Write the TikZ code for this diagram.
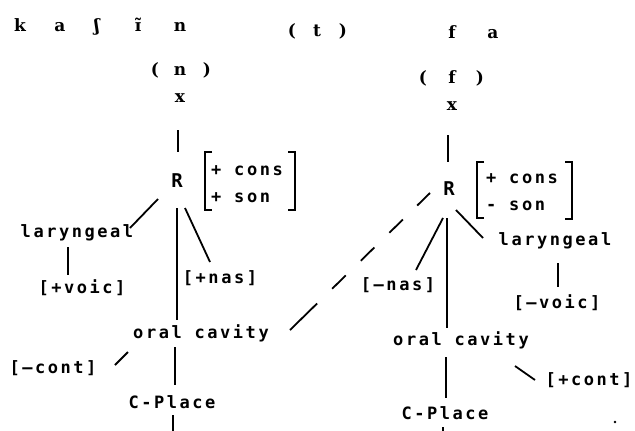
\documentclass[tikz,border=0pt]{standalone}
\usepackage{fontspec}
\newfontfamily\topf{DejaVu Serif}
\newfontfamily\labf{DejaVu Sans Mono}[LetterSpace=15]
\tikzset{
  top/.style={anchor=base, inner sep=0pt, font=\topf\bfseries\fontsize{17}{20}\selectfont},
  lab/.style={anchor=base, inner sep=0pt, font=\labf\bfseries\fontsize{17}{20}\selectfont},
  root/.style={lab, font=\labf\bfseries\fontsize{19}{22}\selectfont},
  featw/.style={lab, anchor=base west},
  ln/.style={line width=1.8pt},
  brk/.style={line width=1.6pt},
  dashln/.style={ln, dash pattern={on 38pt off 21pt on 19pt off 21pt on 19pt off 21pt on 19pt off 20pt on 19pt off 20pt}}
}
\begin{document}
\begin{tikzpicture}[x=1pt, y=-1pt]
\useasboundingbox (0,0) rectangle (635,431);

% transcription line
\node[top] (k)   at (20,31)  {k};
\node[top] (a1)  at (60,31)  {a};
\node[top] (esh) at (97,31)  {ʃ};
\node[top] (ii)  at (138,31) {ɪ̃};
\node[top] (n1)  at (180,31) {n};
\node[top] (lp1) at (292,36) {(};
\node[top] (t)   at (317,36) {t};
\node[top] (rp1) at (343,36) {)};
\node[top] (f1)  at (452,38) {f};
\node[top] (a2)  at (493,38) {a};

% segment slots
\node[top] (lp2) at (155,75)  {(};
\node[top] (n2)  at (180,75)  {n};
\node[top] (rp2) at (207,75)  {)};
\node[top] (xL)  at (180,102) {x};
\node[top] (lp3) at (423,83)  {(};
\node[top] (f2)  at (452,83)  {f};
\node[top] (rp3) at (480,83)  {)};
\node[top] (xR)  at (452,110) {x};

% left tree
\node[root] (RL)    at (177,187) {R};
\node[featw] (consL) at (211,175) {+ cons};
\node[featw] (sonL)  at (211,202) {+ son};
\node[lab] (larL)  at (77,237)  {laryngeal};
\node[lab] (voicL) at (82,293)  {[+voic]};
\node[lab] (nasL)  at (220,283) {[+nas]};
\node[lab] (oralL) at (201,338) {oral cavity};
\node[lab] (contL) at (53,373)  {[–cont]};
\node[lab] (CPL)   at (172,408) {C-Place};
\coordinate (botL) at (173,431);

% right tree
\node[root] (RR)    at (449,195) {R};
\node[featw] (consR) at (486,183) {+ cons};
\node[featw] (sonR)  at (486,210) {- son};
\node[lab] (larR)  at (555,245) {laryngeal};
\node[lab] (voicR) at (557,308) {[–voic]};
\node[lab] (nasR)  at (398,290) {[–nas]};
\node[lab] (oralR) at (461,345) {oral cavity};
\node[lab] (contR) at (589,385) {[+cont]};
\node[lab] (CPR)   at (445,419) {C-Place};
\coordinate (botR) at (443,431);

% feature brackets
\draw[brk] ([shift={(1,-23)}]consL.base west) -- ++(-7,0) -- ++(0,58) -- ++(7,0);
\draw[brk] ([shift={(77,-23)}]consL.base west) -- ++(7,0) -- ++(0,58) -- ++(-7,0);
\draw[brk] ([shift={(-2,-21)}]consR.base west) -- ++(-7,0) -- ++(0,56) -- ++(7,0);
\draw[brk] ([shift={(79,-21)}]consR.base west) -- ++(7,0) -- ++(0,57) -- ++(-7,0);

% left association lines
\draw[ln] ([shift={(-2,28)}]xL.base) -- ([shift={(1,-35)}]RL.base);
\draw[ln] ([shift={(-19,12)}]RL.base) -- ([shift={(53,-9)}]larL.base);
\draw[ln] ([shift={(-9,10)}]larL.base) -- ([shift={(-14,-18)}]voicL.base);
\draw[ln] ([shift={(0,21)}]RL.base) -- ([shift={(-24,-18)}]oralL.base);
\draw[ln] ([shift={(8,21)}]RL.base) -- ([shift={(-10,-21)}]nasL.base);
\draw[ln] ([shift={(-26,9)}]oralL.base) -- ([shift={(3,-23)}]CPL.base);
\draw[ln] ([shift={(1,7)}]CPL.base) -- (botL);
\draw[ln] ([shift={(-73,14)}]oralL.base) -- ([shift={(62,-8)}]contL.base);

% spreading of the oral cavity node
\draw[dashln] ([shift={(89,-8)}]oralL.base) -- ([shift={(-19,-2)}]RR.base);

% right association lines
\draw[ln] ([shift={(-4,25)}]xR.base) -- ([shift={(-1,-33)}]RR.base);
\draw[ln] ([shift={(-6,23)}]RR.base) -- ([shift={(18,-20)}]nasR.base);
\draw[ln] ([shift={(-2,23)}]RR.base) -- ([shift={(-14,-17)}]oralR.base);
\draw[ln] ([shift={(7,15)}]RR.base) -- ([shift={(-72,-7)}]larR.base);
\draw[ln] ([shift={(3,18)}]larR.base) -- ([shift={(1,-21)}]voicR.base);
\draw[ln] ([shift={(-15,12)}]oralR.base) -- ([shift={(1,-21)}]CPR.base);
\draw[ln] ([shift={(-2,8)}]CPR.base) -- (botR);
\draw[ln] ([shift={(54,21)}]oralR.base) -- ([shift={(-54,-5)}]contR.base);

\fill (615,422) circle (1.3);
\end{tikzpicture}
\end{document}
